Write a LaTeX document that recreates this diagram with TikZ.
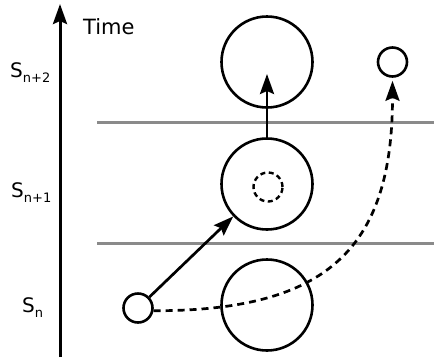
\documentclass[tikz,border=0pt]{standalone}
\usepackage{fontspec}
\setmainfont{DejaVu Sans}
\usetikzlibrary{arrows.meta}
\definecolor{sepgray}{HTML}{8A8A8A}
\newcommand{\slabel}[1]{{\fontsize{20}{20}\selectfont S}\raisebox{-5pt}{\fontsize{13}{13}\selectfont #1}}
\begin{document}
\begin{tikzpicture}[x=1pt,y=-1pt,
  bigc/.style={circle,draw,line width=2.6pt,minimum size=91pt,inner sep=0pt},
  smallc/.style={circle,draw,line width=2.6pt,minimum size=29pt,inner sep=0pt},
  dashc/.style={circle,draw,line width=2.4pt,minimum size=29pt,inner sep=0pt,dash pattern=on 5pt off 3.5pt},
  sep/.style={draw=sepgray,line width=3pt},
  arr/.style={line width=2.7pt,-{Stealth[length=20pt,width=14pt,inset=3pt]}},
  dasharr/.style={line width=2.7pt,dash pattern=on 7pt off 5pt,-{Stealth[length=20pt,width=14pt,inset=3pt]}},
  lbl/.style={inner sep=0pt,anchor=base west}]
\useasboundingbox (0,0) rectangle (434,360);
% separators
\coordinate (l1a) at (97,122); \coordinate (l1b) at (434,122);
\coordinate (l2a) at (97,243); \coordinate (l2b) at (434,243);
\draw[sep] (l1a) -- (l1b);
\draw[sep] (l2a) -- (l2b);
% time axis
\coordinate (axbot) at (60,357);
\coordinate (axtop) at (60,4);
\draw[arr,line width=3pt] (axbot) -- (axtop);
\node[lbl] (time) at (83,34) {\fontsize{21}{21}\selectfont Time};
\node[lbl] (s2) at (10,77) {\slabel{n+2}};
\node[lbl] (s1) at (11,197) {\slabel{n+1}};
\node[lbl] (s0) at (22,312) {\slabel{n}};
% circles
\node[bigc] (big1) at (267,62) {};
\node[bigc] (big2) at (267,184) {};
\node[bigc] (big3) at (267,305) {};
\node[dashc] (dc) at (268,187) {};
\node[smallc] (sA) at (138,308) {};
\node[smallc] (sB) at (392.5,62) {};
% connectors
\coordinate (tipA) at (267,74);
\draw[arr] (sA) -- (big2);
\draw[arr] (big2.north) -- (tipA);
\draw[dasharr,shorten >=3pt] (sA.-10) .. controls (328,311) and (392.5,248) .. (sB.south);
\end{tikzpicture}
\end{document}
